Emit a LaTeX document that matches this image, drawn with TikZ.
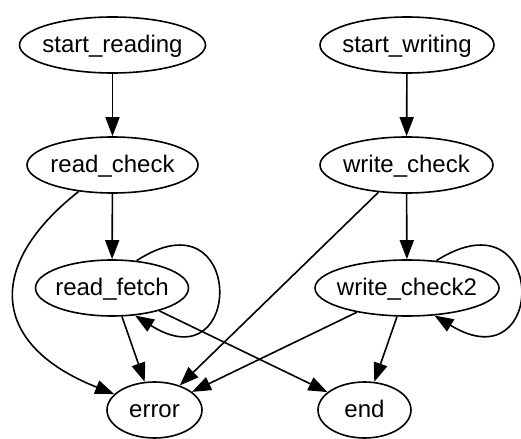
\documentclass[tikz,border=0pt]{standalone}
\usepackage{fontspec}
\setmainfont{Liberation Sans}
\usetikzlibrary{shapes.geometric, arrows.meta}

\begin{document}
\begin{tikzpicture}[
    x=0.5pt, y=-0.5pt,
    state/.style = {
        draw=black,
        line width=0.8pt,
        ellipse,
        inner xsep=-4pt,
        inner ysep=0pt,
        minimum height=28pt,
        text height=9pt,
        text depth=1.5pt,
        font=\fontsize{12}{14}\selectfont,
    },
    edge/.style = {
        draw=black,
        line width=0.8pt,
        -{Triangle[length=9.5pt, width=7pt]},
    },
]
\useasboundingbox (0, 0) rectangle (521, 439);
\node [state, minimum width=93pt] (sread) at (112.5, 45) {start\_reading};
\node [state, minimum width=87pt] (swrite) at (407, 45) {start\_writing};
\node [state, minimum width=85.5pt] (rcheck) at (112.5, 165) {read\_check};
\node [state, minimum width=86.5pt] (wcheck) at (406.5, 165) {write\_check};
\node [state, minimum width=76.5pt] (rfetch) at (112, 288) {read\_fetch};
\node [state, minimum width=92pt] (wcheck2) at (407, 288) {write\_check2};
\node [state, minimum width=47.5pt] (err) at (154.5, 410) {error};
\node [state, minimum width=46.5pt] (fin) at (364.5, 410) {end};
\path [edge] (sread) -- (rcheck);
\path [edge] (swrite) -- (wcheck);
\path [edge] (rcheck) -- (rfetch);
\path [edge] (wcheck) -- (wcheck2);
\path [edge] (rcheck) .. controls (-15, 265) and (-10, 345) .. (err);
\path [edge] (rfetch) -- (err);
\path [edge] (wcheck) -- (err);
\path [edge] (rfetch) -- (fin);
\path [edge] (wcheck2) -- (err);
\path [edge] (wcheck2) -- (fin);
\path [edge] (rfetch.48) .. controls (245, 190) and (245, 385) .. (rfetch.-50);
\path [edge] (wcheck2.43) .. controls (548, 190) and (548, 385) .. (wcheck2.-45);
\end{tikzpicture}
\end{document}
